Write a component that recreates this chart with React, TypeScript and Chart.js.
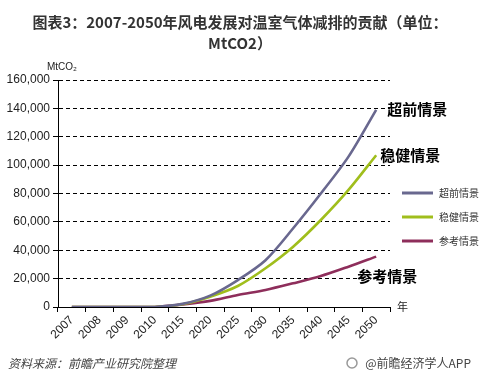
import React, { useEffect, useRef } from "react";
import { Chart, registerables } from "chart.js";

Chart.register(...registerables);

const categories = ["2007", "2008", "2009", "2010", "2015", "2020", "2025", "2030", "2035", "2040", "2045", "2050"];
const advancedValues = [0, 0, 0, 0, 2200, 8000, 19000, 33000, 55500, 80000, 106000, 139000];
const steadyValues = [0, 0, 0, 0, 2000, 7300, 14800, 27300, 42500, 61300, 82500, 107000];
const referenceValues = [0, 0, 0, 0, 1800, 4300, 8500, 12000, 16700, 21800, 28400, 35500];
const seriesNames = ["超前情景", "稳健情景", "参考情景"];
const seriesColors = ["#69688F", "#A0BE1C", "#8E2E5B"];
const yTicks = [0, 20000, 40000, 60000, 80000, 100000, 120000, 140000, 160000];

const titleLines = ["图表3：2007-2050年风电发展对温室气体减排的贡献（单位：", "MtCO2）"];
const sourceText = "资料来源：前瞻产业研究院整理";
const brandText = "@前瞻经济学人APP";
const yUnit = "MtCO₂";
const xUnit = "年";

const CJK = '"Noto Sans CJK SC", "Noto Sans", sans-serif';
const LAT = '"Liberation Sans", Arial, sans-serif';

const decorPlugin = {
  id: "decor",
  afterDraw(chart: any) {
    const ctx = chart.ctx as CanvasRenderingContext2D;
    const xs = chart.scales.x;
    const ys = chart.scales.y;
    ctx.save();
    // title
    ctx.fillStyle = "#333";
    ctx.font = `bold 15px ${CJK}`;
    ctx.textAlign = "center";
    ctx.textBaseline = "middle";
    ctx.fillText(titleLines[0], 240, 22);
    ctx.fillText(titleLines[1], 240, 43);

    // units
    ctx.fillStyle = "#222";
    ctx.font = `10px ${LAT}`;
    ctx.textAlign = "center";
    ctx.fillText(yUnit, xs.left + 4, 67);
    ctx.font = `11px ${CJK}`;
    ctx.textAlign = "left";
    ctx.fillText(xUnit, xs.right + 7, ys.getPixelForValue(0));

    // end labels
    const lastIdx = categories.length - 1;
    const lx = xs.getPixelForValue(lastIdx);
    ctx.fillStyle = "#000";
    ctx.font = `bold 15px ${CJK}`;
    ctx.textAlign = "left";
    ctx.fillText(seriesNames[0], lx + 11, ys.getPixelForValue(advancedValues[lastIdx]));
    ctx.fillText(seriesNames[1], lx + 4, ys.getPixelForValue(steadyValues[lastIdx]));
    ctx.fillText(seriesNames[2], lx - 19, ys.getPixelForValue(referenceValues[lastIdx]) + 20);

    // legend
    const legendY = [193, 217, 241];
    for (let i = 0; i < 3; i++) {
      ctx.strokeStyle = seriesColors[i];
      ctx.lineWidth = 3;
      ctx.beginPath();
      ctx.moveTo(402, legendY[i]);
      ctx.lineTo(433, legendY[i]);
      ctx.stroke();
      ctx.fillStyle = "#333";
      ctx.font = `10px ${CJK}`;
      ctx.textAlign = "left";
      ctx.fillText(seriesNames[i], 439, legendY[i]);
    }

    // footer
    ctx.fillStyle = "#444";
    ctx.font = `italic 12px ${CJK}`;
    ctx.textAlign = "left";
    ctx.fillText(sourceText, 8, 363);
    ctx.fillStyle = "#444";
    ctx.font = `12px ${CJK}`;
    ctx.textAlign = "right";
    ctx.fillText(brandText, 471, 363);
    ctx.strokeStyle = "#999";
    ctx.lineWidth = 1.5;
    ctx.beginPath();
    ctx.arc(352, 363, 5, 0, Math.PI * 2);
    ctx.stroke();
    ctx.restore();
  },
};

export default function App() {
  const ref = useRef<HTMLCanvasElement>(null);
  useEffect(() => {
    const values = [advancedValues, steadyValues, referenceValues];
    const chart = new Chart(ref.current as HTMLCanvasElement, {
      type: "line",
      data: {
        labels: categories,
        datasets: values.map((v, i) => ({
          label: seriesNames[i],
          data: v,
          borderColor: seriesColors[i],
          backgroundColor: seriesColors[i],
          borderWidth: 2.6,
          pointRadius: 0,
          tension: 0.3,
          fill: false,
        })),
      },
      options: {
        responsive: false,
        animation: false,
        devicePixelRatio: 1,
        layout: { padding: { left: 0, right: 89, top: 80, bottom: 0 } },
        plugins: { legend: { display: false }, tooltip: { enabled: false }, title: { display: false } },
        scales: {
          x: {
            offset: true,
            grid: {
              display: true,
              drawOnChartArea: false,
              drawTicks: true,
              tickLength: 5,
              color: "#000",
              offset: true,
            },
            border: { display: true, color: "#000", width: 1 },
            ticks: {
              autoSkip: false,
              maxRotation: 45,
              minRotation: 45,
              color: "#222",
              font: { size: 12, family: LAT },
              padding: 1,
            },
            afterFit: (s: any) => {
              s.height = 74;
            },
          },
          y: {
            min: 0,
            max: 160000,
            afterBuildTicks: (s: any) => {
              s.ticks = yTicks.map((v) => ({ value: v }));
            },
            ticks: {
              color: "#222",
              font: { size: 12, family: LAT },
              padding: 3,
              callback: (v: any) => Number(v).toLocaleString("en-US"),
            },
            grid: {
              color: "#000",
              lineWidth: 1,
              tickLength: 5,
              tickBorderDash: [],
            },
            border: { display: true, color: "#000", width: 1, dash: [4, 3] },
            afterFit: (s: any) => {
              s.width = 58;
            },
          },
        },
      },
      plugins: [decorPlugin],
    });
    return () => chart.destroy();
  }, []);
  return (
    <div style={{ position: "absolute", left: 0, top: 0, width: 479, height: 381, background: "#fff" }}>
      <canvas ref={ref} width={479} height={381} style={{ display: "block" }} />
    </div>
  );
}
